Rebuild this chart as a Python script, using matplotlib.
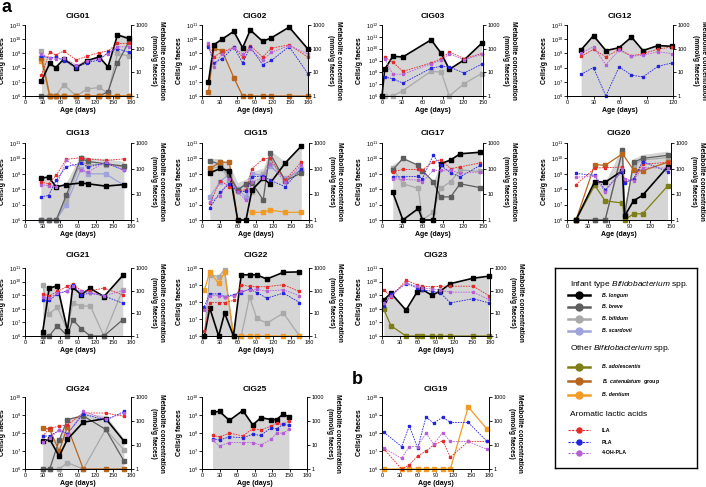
import matplotlib
matplotlib.use("Agg")
import matplotlib.pyplot as plt
import numpy as np
from matplotlib.ticker import FixedLocator, FuncFormatter, NullLocator

plt.rcParams["font.family"] = ["Liberation Sans", "DejaVu Sans"]
plt.rcParams["mathtext.fontset"] = "custom"
plt.rcParams["mathtext.rm"] = "Liberation Sans"
plt.rcParams["mathtext.it"] = "Liberation Sans:italic"
plt.rcParams["mathtext.bf"] = "Liberation Sans:bold"
plt.rcParams["mathtext.bfit"] = "Liberation Sans:italic:bold"

nan = np.nan

# Bacteria: log10 cells/g faeces (6 = detection limit). Metabolites: mmol/g faeces.
CIG01 = {
    "days": [28, 42, 52, 66, 87, 106, 126, 141, 157, 176],
    "longum": [7.05, 8.3, 8.0, 8.6, 8.0, 8.5, 8.75, 8.05, 10.3, 10.05],
    "breve": [6, 6, 6, 6, 6, 6, 6, 6.3, 8.3, 9.8],
    "bifidum": [9.2, 6, 6, 6.8, 6, 6.5, 6.6, 6.2, 9.0, 8.8],
    "catenulatum": [8.7, 6, 6, 6, 6, 6, 6, 6, 6, 6],
    "dentium": [8.5, 6, 6, 6, 6, 6, 6, 6, 6, 6],
    "ILA": [7.7, 75, 54, 80, 33, 49, 68, 80, 167, 167],
    "PLA": [50, 39, 45, 31, 16, 26, 33, 70, 100, 70],
    "4-OH-PLA": [60, 40, 35, 40, 20, 30, 38, 60, 120, 120],
}
CIG02 = {
    "days": [11, 20, 34, 54, 69, 82, 103, 118, 148, 180],
    "longum": [7.0, 9.6, 10.0, 10.55, 9.4, 10.65, 9.85, 10.1, 10.85, 9.3],
    "catenulatum": [6.3, 9.35, 9.2, 7.3, 6, 6, 6, 6, 6, 6],
    "ILA": [148, 46, 71, 115, 44, 135, 44, 105, 145, 44],
    "PLA": [123, 25, 37, 115, 25, 115, 21, 32, 123, 8.7],
    "4-OH-PLA": [170, 17, 60, 110, 60, 98, 32, 71, 135, 60],
}
CIG03 = {
    "days": [0, 4, 16, 31, 73, 88, 100, 122, 148],
    "longum": [6, 8.25, 9.35, 9.3, 10.75, 9.6, 8.25, 9.05, 10.45],
    "bifidum": [6, 6, 6, 6.45, 8.1, 8.0, 6.0, 7.05, 7.9],
    "ILA": [nan, 44, 27, 11, 25, 38, 72, 38, 62],
    "PLA": [nan, 6.3, 5.4, 3.5, 15, 18, 17, 9.3, 22],
    "4-OH-PLA": [nan, 38, 8.3, 8.3, 23, 32, 60, 34, 57],
}
CIG12 = {
    "days": [16, 30, 44, 59, 73, 86, 103, 119],
    "longum": [9.25, 10.25, 9.2, 9.4, 10.15, 9.2, 9.55, 9.5],
    "ILA": [48, 93, 45, 93, 50, 62, 95, 120],
    "PLA": [8.3, 16, 1.0, 17, 7.6, 6.4, 18, 25],
    "4-OH-PLA": [66, 120, 21, 87, 48, 53, 74, 62],
}
CIG13 = {
    "days": [27, 40, 53, 70, 95, 107, 137, 168],
    "longum": [8.7, 8.8, 8.15, 8.3, 8.4, 8.35, 8.2, 8.3],
    "breve": [6, 6, 6, 7.6, 10.0, 9.8, 9.65, 9.5],
    "bifidum": [6, 6, 6, 7.3, 9.8, 9.6, 9.6, 9.45],
    "scardovii": [6, 6, 6, 7.0, 9.3, 9.0, 9.0, 8.25],
    "ILA": [30, 26, 55, 230, 270, 240, 210, 240],
    "PLA": [8, 9, 36, 120, 160, 117, 168, 87],
    "4-OH-PLA": [24, 22, 20, 215, 90, 75, 180, 90],
}
CIG15 = {
    "days": [13, 31, 46, 60, 74, 84, 103, 114, 140, 167],
    "longum": [9.05, 9.35, 9.2, 6, 6, 7.95, 8.7, 8.35, 9.7, 10.8],
    "breve": [9.85, 9.6, 8.9, 7.95, 8.35, 8.4, 7.3, 10.35, 8.55, 9.05],
    "bifidum": [9.3, 9.5, 8.6, 7.9, 8.3, 7.8, 9.0, 9.9, 8.6, 9.3],
    "scardovii": [7.5, 8.5, 9.0, 8.0, 7.5, 9.0, 8.9, 9.5, 8.7, 9.2],
    "catenulatum": [9.35, 9.75, 9.75, 6, nan, nan, nan, nan, nan, nan],
    "dentium": [nan, nan, nan, nan, nan, 6.5, 6.5, 6.65, 6.5, 6.5],
    "ILA": [4.4, 34, 20, 14, 15, 100, 240, 260, 36, 180],
    "PLA": [3, 12.6, 26, 12.6, 13, 48, 52, 36, 20, 100],
    "4-OH-PLA": [5, 9, 40, 12, 6, 30, 45, 150, 30, 140],
}
CIG17 = {
    "days": [16, 31, 54, 60, 76, 87, 102, 116, 146],
    "longum": [7.8, 6, 6.75, 6, 6, 9.65, 9.9, 10.3, 10.4],
    "breve": [9.25, 10.0, 9.55, 9.2, 8.5, 7.5, 7.5, 8.35, 8.1],
    "bifidum": [9.35, 8.35, 8.05, 6, 6.5, 8.05, 8.5, 9.25, 9.15],
    "ILA": [75, 93, 93, 90, 183, 225, 100, 117, 168],
    "PLA": [48, 48, 50, 41, 333, 135, 69, 48, 135],
    "4-OH-PLA": [41, 38, 36, 31, 85, 85, 88, 65, 75],
}
CIG20 = {
    "days": [13, 40, 55, 80, 83, 96, 109, 145],
    "longum": [6, 8.5, 8.45, 9.2, 6.25, 7.25, 7.6, 9.45],
    "breve": [6, 6, 6, 10.55, 6.3, 9.75, 10.0, 10.2],
    "bifidum": [6, 6, 6, 10.4, 6.5, 9.6, 9.9, 10.05],
    "adolescentis": [6, 8.25, 7.25, 7.1, 6.0, 6.4, 6.4, 8.2],
    "catenulatum": [6, 9.6, 9.55, 10.3, nan, 9.25, 9.2, 9.75],
    "ILA": [24, 105, 110, 115, 30, 38, 150, 175],
    "PLA": [65, 55, 15, 80, 28, 40, 190, 77],
    "4-OH-PLA": [47, 50, 12.6, 100, 40, 34, 110, 105],
}
CIG21 = {
    "days": [30, 41, 55, 72, 81, 95, 111, 134, 166],
    "longum": [6.3, 9.5, 9.7, 6.4, 9.6, 9.05, 9.5, 8.9, 10.45],
    "breve": [6, 6, 6.75, 6, 7.2, 6.55, 6, 6, 7.2],
    "bifidum": [9.75, 7.65, 8.1, 6.4, 8.45, 8.2, 8.2, 6, 9.4],
    "ILA": [72, 59, 92, 155, 200, 100, 100, 129, 66],
    "PLA": [37, 37, 72, 100, 182, 66, 78, 59, 28],
    "4-OH-PLA": [52, 47, 78, 92, 155, 92, 83, 59, 100],
}
CIG22 = {
    "days": [4, 13, 28, 38, 53, 66, 80, 92, 109, 137, 164],
    "longum": [6, 7.65, 6, 7.35, 6, 9.6, 9.6, 9.6, 9.35, 9.75, 9.77],
    "bifidum": [6, 9.6, 9.5, 9.9, 6, 6, 8.3, 7.05, 6.75, 7.35, 6],
    "dentium": [8.7, 9.75, 9.1, 9.75, 6, 6, 6, 6, 6, 6, 6],
    "ILA": [1.6, 30, 30, 30, 37, 182, 154, 150, 150, 182, 92],
    "PLA": [20, 72, 72, 55, 66, 83, 117, 83, 47, 78, 30],
    "4-OH-PLA": [14, 60, 60, 50, 60, 95, 110, 115, 95, 110, 60],
}
CIG23 = {
    "days": [3, 15, 40, 58, 66, 83, 97, 114, 152, 178],
    "longum": [8.65, 9.15, 7.9, 9.2, 9.45, 9.0, 9.3, 9.85, 10.25, 10.4],
    "adolescentis": [7.95, 6.75, 6, 6, 6, 6, 6, 6, 6, 6],
    "ILA": [112, 54, 288, 186, 160, 147, 157, 157, 157, 61],
    "PLA": [21, 68, 205, 133, 110, 95, 80, 29, 44, 29],
    "4-OH-PLA": [29, 57, 220, 157, 133, 120, 105, 86, 86, 41],
}
CIG24 = {
    "days": [30, 42, 58, 72, 99, 137, 168],
    "longum": [7.55, 7.65, 6.7, 7.65, 8.6, 8.8, 7.55],
    "breve": [6, 6, 7.6, 8.75, 8.95, 8.2, 6.45],
    "bifidum": [6, 6, 6, 6.35, 6, 8.2, 7.05],
    "catenulatum": [8.3, 8.2, 7.0, 8.35, 6, 6, 6],
    "ILA": [23, 51, 60, 70, 215, 215, 157],
    "PLA": [23, 24, 41, 30, 196, 107, 250],
    "4-OH-PLA": [13, 20, 41, 27, 250, 120, 215],
}
CIG25 = {
    "days": [18, 30, 47, 70, 87, 101, 118, 128, 139, 149],
    "longum": [9.15, 9.2, 8.7, 9.25, 8.45, 8.85, 8.75, 8.75, 9.05, 8.9],
    "ILA": [25, 22, 31, 24, 48, 42, 62, 79, 72, 99],
    "PLA": [18.5, 16, 22, 20, 28, 25, 52, 48, 72, 66],
    "4-OH-PLA": [16, 9.2, 12.6, 12.6, 12.6, 9.8, 17, 31, 31, 45],
}
CIG19 = {
    "days": [3, 33, 46, 60, 74, 87, 102, 115, 145, 177],
    "dentium": [6, 6, 6, 6, 6, 6, 6, 6, 9.45, 8.2],
    "ILA": [6.9, 1.0, 1.5, 3.5, 5.6, 10, 15, 3.1, 14, 14],
    "PLA": [34, 8.6, 63, 7.3, 145, 81, 145, 87, 87, 14],
    "4-OH-PLA": [7.3, 2.8, 8.6, 8.6, 31, 10.8, 33, 14, 14, 6.6],
}

PANELS = {
    "CIG01": CIG01, "CIG02": CIG02, "CIG03": CIG03, "CIG12": CIG12,
    "CIG13": CIG13, "CIG15": CIG15, "CIG17": CIG17, "CIG20": CIG20,
    "CIG21": CIG21, "CIG22": CIG22, "CIG23": CIG23,
    "CIG24": CIG24, "CIG25": CIG25, "CIG19": CIG19,
}

# pixel box (left, top, right, bottom), top decade of left axis, x max, title gap (pt)
W, H = 706, 487
LAYOUT = {
    "CIG01": (25, 25, 131, 96, 11, 180, 5),
    "CIG02": (202, 25, 308, 96, 11, 180, 5),
    "CIG03": (382, 25, 483, 96, 12, 150, 5),
    "CIG12": (567, 25, 673, 96, 11, 120, 5),
    "CIG13": (25, 143, 131, 220, 11, 180, 6),
    "CIG15": (202, 143, 309, 220, 11, 180, 6),
    "CIG17": (382, 143, 483, 220, 11, 150, 6),
    "CIG20": (567, 143, 671, 220, 11, 150, 6),
    "CIG21": (25, 268, 131, 336, 11, 180, 8),
    "CIG22": (202, 268, 309, 336, 10, 180, 8),
    "CIG23": (382, 268, 490, 336, 11, 180, 8),
    "CIG24": (25, 397, 131, 469, 10, 180, 4.5),
    "CIG25": (202, 397, 307, 469, 10, 180, 4.5),
    "CIG19": (382, 397, 489, 469, 10, 180, 4.5),
}

INFANT = ["longum", "breve", "bifidum", "scardovii"]
BACT_ORDER = ["scardovii", "bifidum", "breve", "dentium", "catenulatum",
              "adolescentis", "longum"]
METABOLITES = ["ILA", "PLA", "4-OH-PLA"]
COLORS = {
    "longum": "#000000", "breve": "#5e5e5e", "bifidum": "#a9a9a9",
    "scardovii": "#9ea3dc", "adolescentis": "#7e7e16",
    "catenulatum": "#b8651e", "dentium": "#f29b24",
    "ILA": "#e62a2a", "PLA": "#2424e0", "4-OH-PLA": "#b460d8",
}
FILL = "#d5d5d5"
BOLD5 = dict(fontsize=5, fontweight="bold")

fig = plt.figure(figsize=(W / 100, H / 100), dpi=100)


def draw_panel(name, data):
    l, t, r, b, ytop, xmax, tpad = LAYOUT[name]
    ax = fig.add_axes([l / W, 1 - b / H, (r - l) / W, (b - t) / H])
    ax2 = ax.twinx()
    days = np.asarray(data["days"], float)

    infant = [np.asarray(data[k], float) for k in INFANT if k in data]
    if infant:
        cells = np.sum([np.where(v > 6, 10 ** v, 0) for v in infant], axis=0)
        ax.fill_between(days, 1e6, np.maximum(cells, 1e6), color=FILL,
                        lw=0, zorder=0)

    for key in BACT_ORDER:
        if key not in data:
            continue
        v = np.asarray(data[key], float)
        m = ~np.isnan(v)
        ax.plot(days[m], 10 ** v[m], color=COLORS[key],
                lw=1.2 if key == "longum" else 0.9, marker="s", ms=2.2,
                clip_on=False, zorder=3)

    for key in METABOLITES:
        v = np.asarray(data[key], float)
        m = ~np.isnan(v)
        ax2.plot(days[m], v[m], color=COLORS[key], lw=0.6, ls=(0, (2, 1.2)),
                 marker="s", ms=2, clip_on=False)

    ax.set_yscale("log")
    ax.set_ylim(1e6, 10.0 ** ytop)
    ax.yaxis.set_major_locator(FixedLocator(10.0 ** np.arange(6, ytop + 1)))
    ax.yaxis.set_major_formatter(
        FuncFormatter(lambda y, _: f"$10^{{{int(round(np.log10(y)))}}}$"))
    ax.yaxis.set_minor_locator(NullLocator())
    ax2.set_yscale("log")
    ax2.set_ylim(1, 1000)
    ax2.yaxis.set_major_locator(FixedLocator([1, 10, 100, 1000]))
    ax2.yaxis.set_major_formatter(FuncFormatter(lambda y, _: f"{y:g}"))
    ax2.yaxis.set_minor_locator(NullLocator())
    ax.set_xlim(0, xmax)
    ax.set_xticks(range(0, xmax + 1, 30))

    for a in (ax, ax2):
        a.spines["top"].set_visible(False)
        for s in a.spines.values():
            s.set_linewidth(0.7)
        a.tick_params(labelsize=4, length=2, width=0.6, pad=1)
    ax.spines["right"].set_visible(False)

    ax.set_xlabel("Age (days)", labelpad=1, **BOLD5)
    ax.set_ylabel("Cells/g faeces", labelpad=2, **BOLD5)
    ax2.set_ylabel("Metabolite concentration\n(mmol/g faeces)", rotation=270,
                   va="bottom", labelpad=1.5, fontsize=4.8, fontweight="bold")
    ax.set_title(name, fontsize=6, fontweight="bold", pad=tpad)


for name, data in PANELS.items():
    draw_panel(name, data)

fig.text(7 / W, 1 - 8 / H, "a", fontsize=13, fontweight="bold",
         ha="center", va="center")
fig.text(357 / W, 1 - 380 / H, "b", fontsize=13, fontweight="bold",
         ha="center", va="center")

# legend box, drawn in pixel coordinates
lax = fig.add_axes([555 / W, 1 - 468 / H, 142 / W, 200 / H])
lax.set_xlim(555, 697)
lax.set_ylim(468, 268)
lax.set_xticks([])
lax.set_yticks([])
for s in lax.spines.values():
    s.set_linewidth(1)

HEADINGS = [
    (285, r"Infant type $\mathit{Bifidobacterium}$ spp."),
    (349, r"Other $\mathit{Bifidobacterium}$ spp."),
    (415, "Aromatic lactic acids"),
]
LEGEND_ROWS = [
    (295, "longum", r"B. longum"),
    (307, "breve", r"B. breve"),
    (319, "bifidum", r"B. bifidum"),
    (331, "scardovii", r"B. scardovii"),
    (367, "adolescentis", r"B. adolescentis"),
    (381, "catenulatum", r"$\mathbfit{B.\ catenulatum}$  group"),
    (395, "dentium", r"B. dentium"),
    (430, "ILA", "ILA"),
    (442, "PLA", "PLA"),
    (453, "4-OH-PLA", "4-OH-PLA"),
]
for y, text in HEADINGS:
    lax.text(570, y, text, fontsize=6, va="center", ha="left")
for y, key, label in LEGEND_ROWS:
    if key in METABOLITES:
        lax.plot([568, 590], [y, y], color=COLORS[key], lw=0.8,
                 ls=(0, (2, 1.2)))
        lax.plot([579], [y], color=COLORS[key], marker="o", ms=3.6)
        lax.text(602, y, label, fontsize=3.8, fontweight="bold", va="center")
    else:
        lax.plot([568, 590], [y, y], color=COLORS[key], lw=1.8)
        lax.plot([579], [y], color=COLORS[key], marker="o", ms=5)
        style = "normal" if "$" in label else "italic"
        lax.text(602, y, label, fontsize=3.8, fontweight="bold",
                 style=style, va="center")

fig.savefig("out.png", dpi=100)
